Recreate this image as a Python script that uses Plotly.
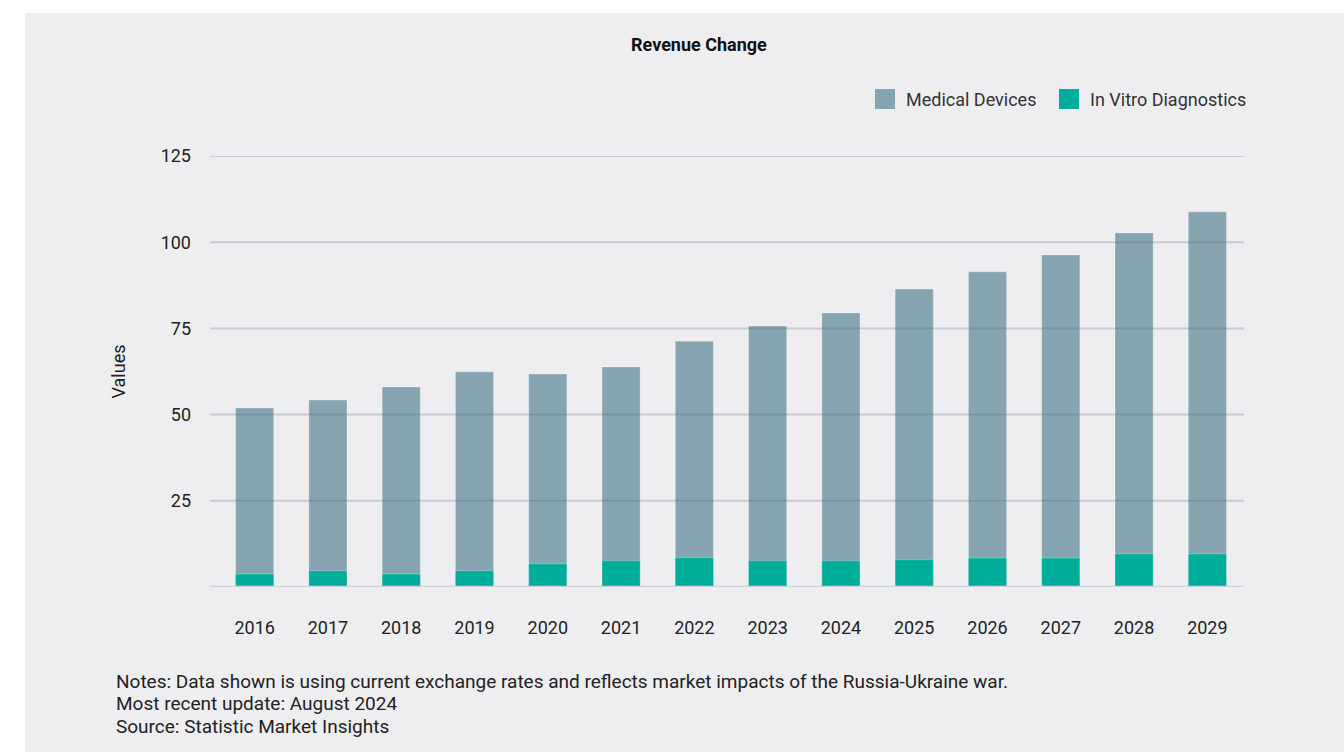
import plotly.graph_objects as go

years = ["2016", "2017", "2018", "2019", "2020", "2021", "2022",
         "2023", "2024", "2025", "2026", "2027", "2028", "2029"]
medical_devices = [51.9, 54.2, 58.0, 62.4, 61.8, 63.8, 71.3,
                   75.7, 79.5, 86.4, 91.4, 96.3, 102.7, 108.8]
in_vitro_diagnostics = [3.8, 4.7, 3.8, 4.7, 6.7, 7.6, 8.5,
                        7.6, 7.6, 7.9, 8.4, 8.4, 9.6, 9.6]
y_ticks = [25, 50, 75, 100, 125]

series_names = ["Medical Devices", "In Vitro Diagnostics"]
series_colors = ["#87a5b0", "#00ad9a"]
notes = [
    "Notes: Data shown is using current exchange rates and reflects market impacts of the Russia-Ukraine war.",
    "Most recent update: August 2024",
    "Source: Statistic Market Insights",
]

FONT = "Roboto"
W, H = 1344, 752
ML, MR, MT, MB = 218, 100, 156, 165
PW, PH = W - ML - MR, H - MT - MB


def px_x(p):
    return (p - ML) / PW


def px_y(p):
    return (H - MB - p) / PH


fig = go.Figure()
for name, vals, col in zip(series_names, [medical_devices, in_vitro_diagnostics], series_colors):
    fig.add_trace(go.Bar(
        x=years, y=vals, name=name, marker_color=col,
        marker_line=dict(color="rgba(255,255,255,0.25)", width=1),
        showlegend=False,
    ))

shapes = []
# card background
shapes.append(dict(type="rect", xref="paper", yref="paper", layer="below",
                   x0=px_x(25), x1=px_x(W + 5), y0=px_y(H + 5), y1=px_y(13),
                   fillcolor="#eeeef0", line_width=0))
# horizontal grid lines drawn above the bars
for t in y_ticks:
    shapes.append(dict(type="line", xref="paper", yref="y", layer="above",
                       x0=px_x(210), x1=1.0, y0=t, y1=t,
                       line=dict(color="rgba(90,100,120,0.25)", width=2)))
# baseline
shapes.append(dict(type="line", xref="paper", yref="y", layer="above",
                   x0=px_x(210), x1=1.0, y0=0, y1=0,
                   line=dict(color="#cdd1d8", width=2.5)))

annotations = [
    dict(text="<b>Revenue Change</b>", xref="paper", yref="paper",
         x=px_x(699), y=px_y(45), showarrow=False,
         font=dict(family=FONT, size=18, color="#111111"),
         xanchor="center", yanchor="middle"),
]

# legend swatches and labels
legend_items = [(875, series_names[0], series_colors[0]), (1059, series_names[1], series_colors[1])]
for x0, name, col in legend_items:
    shapes.append(dict(type="rect", xref="paper", yref="paper",
                       x0=px_x(x0), x1=px_x(x0 + 20), y0=px_y(109), y1=px_y(89),
                       fillcolor=col, line_width=0))
    annotations.append(dict(text=name, xref="paper", yref="paper",
                            x=px_x(x0 + 29), y=px_y(99.5), showarrow=False,
                            xanchor="left", yanchor="middle",
                            font=dict(family=FONT, size=18, color="#333333")))

for i, line in enumerate(notes):
    annotations.append(dict(text=line, xref="paper", yref="paper",
                            x=px_x(114), y=px_y(681 + 22.5 * i), showarrow=False,
                            xanchor="left", yanchor="middle",
                            font=dict(family=FONT, size=19, color="#222222")))

fig.update_layout(
    width=W, height=H,
    margin=dict(l=ML, r=MR, t=MT, b=MB, pad=0),
    paper_bgcolor="white",
    plot_bgcolor="rgba(0,0,0,0)",
    barmode="overlay",
    bargap=0.48,
    font=dict(family=FONT, color="#222222"),
    shapes=shapes,
    annotations=annotations,
    xaxis=dict(showgrid=False, zeroline=False, showline=False, ticks="",
               tickfont=dict(family=FONT, size=18, color="#222222"),
               ticklabelstandoff=28),
    yaxis=dict(range=[0, 125], tickvals=y_ticks, showgrid=False, zeroline=False,
               showline=False, ticks="",
               tickfont=dict(family=FONT, size=18, color="#222222"),
               ticklabelstandoff=26,
               title=dict(text="Values", standoff=30,
                          font=dict(family=FONT, size=18, color="#222222"))),
)

fig.write_html("out.html")
